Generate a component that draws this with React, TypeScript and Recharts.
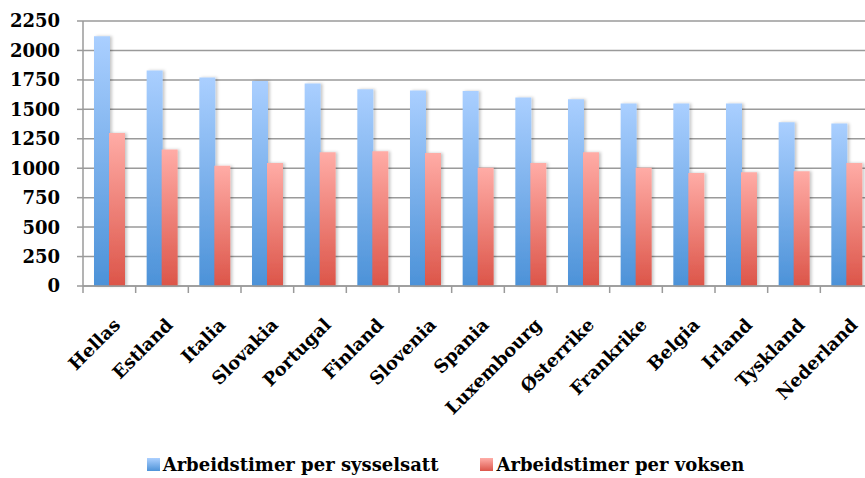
import { BarChart, Bar, XAxis, YAxis, CartesianGrid, Legend } from "recharts";

// arbeidstimer per land
const countries = [
    "Hellas", "Estland", "Italia", "Slovakia", "Portugal", "Finland", "Slovenia", "Spania",
    "Luxembourg", "Østerrike", "Frankrike", "Belgia", "Irland", "Tyskland", "Nederland",
];
const perEmployed = [2120, 1830, 1770, 1740, 1720, 1670, 1660, 1655, 1600, 1585, 1550, 1550, 1550, 1390, 1380];
const perAdult = [1300, 1160, 1020, 1045, 1135, 1145, 1130, 1005, 1045, 1135, 1005, 960, 965, 975, 1045];
const yTicks = [0, 250, 500, 750, 1000, 1250, 1500, 1750, 2000, 2250];

const seriesNames = ["Arbeidstimer per sysselsatt", "Arbeidstimer per voksen"];

const data = countries.map((name, i) => ({
    name,
    employed: perEmployed[i],
    adult: perAdult[i],
}));

const FONT = "DejaVu Serif";
const GRID = "#9a9a9a";
const PLOT_WIDTH = 790;
const band = PLOT_WIDTH / countries.length;

function CountryTick(props: any) {
    const { x, y, payload } = props;
    const left = x - band / 2;
    return (
        <g>
            <line x1={left} x2={left} y1={y} y2={y + 7} stroke={GRID} strokeWidth={1.5} />
            <text
                transform={`translate(${x + 12},${y + 40}) rotate(-45)`}
                textAnchor="end"
                fontFamily={FONT}
                fontWeight="bold"
                fontSize={18}
                fill="#000">
                {payload.value}
            </text>
        </g>
    );
}

function LegendBox() {
    const swatch = [
        "linear-gradient(to bottom, #acd0ff, #4e93d8)",
        "linear-gradient(to bottom, #ffaea8, #dc554a)",
    ];
    return (
        <div style={{
            height: 52, display: "flex", justifyContent: "center", alignItems: "flex-end",
            paddingBottom: 3, paddingLeft: 18, boxSizing: "border-box", gap: 42,
            fontFamily: FONT, fontWeight: "bold", fontSize: 18, color: "#000",
        }}>
            {seriesNames.map((n, i) => (
                <div key={n} style={{ display: "flex", alignItems: "center", gap: 3 }}>
                    <span style={{ width: 13, height: 13, background: swatch[i], display: "inline-block" }} />
                    <span>{n}</span>
                </div>
            ))}
        </div>
    );
}

export default function App() {
    return (
        <div style={{ position: "fixed", left: 0, top: 0, width: 865, height: 478, overflow: "hidden", background: "#fff" }}>
            <BarChart
                width={880}
                height={478}
                data={data}
                barSize={16}
                barGap={-1}
                margin={{ top: 21, right: 7, left: 0, bottom: 0 }}>
                <defs>
                    <linearGradient id="blueFill" x1="0" y1="0" x2="0" y2="1">
                        <stop offset="0%" stopColor="#aacfff" />
                        <stop offset="100%" stopColor="#4c92d8" />
                    </linearGradient>
                    <linearGradient id="redFill" x1="0" y1="0" x2="0" y2="1">
                        <stop offset="0%" stopColor="#ffaca6" />
                        <stop offset="100%" stopColor="#dc5549" />
                    </linearGradient>
                    <filter id="barShadow" x="-20%" y="-5%" width="150%" height="110%">
                        <feDropShadow dx={2} dy={0} stdDeviation={1.5} floodColor="#000" floodOpacity={0.22} />
                    </filter>
                </defs>
                <CartesianGrid vertical={false} stroke={GRID} strokeWidth={1.5} />
                <XAxis
                    dataKey="name"
                    interval={0}
                    height={140}
                    tickSize={0}
                    tickMargin={0}
                    tickLine={false}
                    axisLine={{ stroke: GRID, strokeWidth: 1.5 }}
                    tick={<CountryTick />} />
                <YAxis
                    width={83}
                    domain={[0, 2250]}
                    ticks={yTicks}
                    interval={0}
                    tickSize={6}
                    tickMargin={17}
                    axisLine={{ stroke: GRID, strokeWidth: 1.5 }}
                    tickLine={{ stroke: GRID, strokeWidth: 1.5 }}
                    tick={{ fontFamily: FONT, fontWeight: "bold", fontSize: 18, fill: "#000" }} />
                <Legend verticalAlign="bottom" content={<LegendBox />} />
                <Bar
                    dataKey="employed"
                    name={seriesNames[0]}
                    fill="url(#blueFill)"
                    filter="url(#barShadow)"
                    isAnimationActive={false} />
                <Bar
                    dataKey="adult"
                    name={seriesNames[1]}
                    fill="url(#redFill)"
                    filter="url(#barShadow)"
                    isAnimationActive={false} />
            </BarChart>
        </div>
    );
}
